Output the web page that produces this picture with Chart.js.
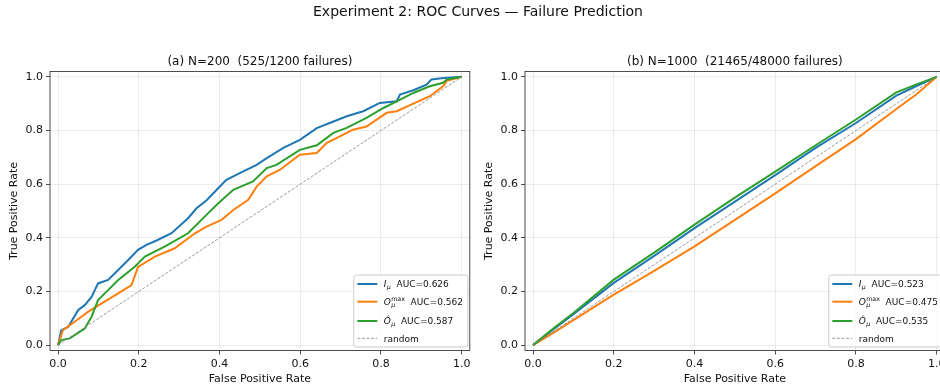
<!DOCTYPE html>
<html>
<head>
<meta charset="utf-8">
<script src="https://cdn.jsdelivr.net/npm/chart.js@4.4.1/dist/chart.umd.min.js"></script>
<style>
  html, body { margin: 0; padding: 0; background: #fff; overflow: hidden; }
  #wrap { position: relative; width: 940px; height: 390px; overflow: hidden; }
  #suptitle { position: absolute; left: 0; top: 3px; width: 956px; text-align: center;
              font: 14px "DejaVu Sans"; line-height: 16px; color: #111; }
  canvas { position: absolute; top: 0; }
</style>
</head>
<body>
<div id="wrap">
  <canvas id="rocA" width="480" height="390" style="left:0px"></canvas>
  <canvas id="rocB" width="480" height="390" style="left:475px"></canvas>
  <div id="suptitle">Experiment 2: ROC Curves — Failure Prediction</div>
</div>
<script>
// ---- data ----
const rateTicks = [0, 0.2, 0.4, 0.6, 0.8, 1.0];
const panelTitles = ['(a) N=200  (525/1200 failures)', '(b) N=1000  (21465/48000 failures)'];
const aucA = [0.626, 0.562, 0.587];
const aucB = [0.523, 0.475, 0.535];
const randomLine = [0, 1];

// panel (a), N=200
const iFprA = [0, .008, .025, .05, .066, .083, .099, .124, .157, .178, .198, .219, .244, .281, .322, .343, .368, .393, .417, .45, .492, .517, .558, .599, .641, .673, .715, .756, .797, .839, .847, .88, .913, .925, .95, 1];
const iTprA = [0, .056, .068, .131, .149, .18, .23, .243, .292, .324, .355, .374, .39, .417, .473, .51, .54, .579, .616, .641, .672, .697, .735, .765, .809, .828, .853, .872, .903, .909, .934, .95, .971, .99, .995, 1];
const oFprA = [0, .012, .041, .074, .108, .149, .182, .198, .24, .289, .339, .368, .405, .434, .471, .492, .517, .55, .599, .641, .665, .682, .731, .764, .814, .839, .88, .921, .954, .963, 1];
const oTprA = [0, .056, .087, .124, .156, .193, .224, .292, .33, .361, .417, .442, .467, .504, .542, .591, .629, .654, .71, .716, .753, .766, .803, .815, .866, .872, .9, .928, .965, .985, 1];
const hFprA = [0, .008, .029, .066, .083, .099, .124, .149, .19, .215, .264, .322, .372, .397, .434, .483, .517, .541, .599, .641, .682, .715, .764, .806, .839, .88, .921, .954, .963, 1];
const hTprA = [0, .019, .025, .062, .106, .168, .205, .243, .292, .33, .367, .417, .492, .529, .579, .61, .66, .672, .728, .745, .791, .81, .847, .884, .909, .94, .965, .978, .99, 1];

// panel (b), N=1000
const iFprB = [0, .05, .1, .2, .3, .4, .5, .6, .7, .8, .9, .95, 1];
const iTprB = [0, .058, .115, .232, .333, .436, .535, .634, .735, .828, .93, .966, 1];
const oFprB = [0, .05, .1, .2, .3, .4, .5, .6, .7, .8, .9, .95, 1];
const oTprB = [0, .046, .093, .188, .277, .368, .467, .566, .667, .768, .88, .935, 1];
const hFprB = [0, .05, .1, .2, .3, .4, .5, .6, .7, .8, .9, .95, 1];
const hTprB = [0, .062, .12, .244, .345, .449, .55, .647, .745, .841, .942, .972, 1];

const seriesColors = ['#1f77b4', '#ff7f0e', '#2ca02c'];
const legendSymbols = [
  { main: 'I', sub: 'μ', sup: '' },
  { main: 'O', sub: 'μ', sup: 'max' },
  { main: 'Ô', sub: 'μ', sup: '' }
];

Chart.defaults.font.family = '"DejaVu Sans"';
Chart.defaults.color = '#111';

const pts = (xs, ys) => xs.map((x, i) => ({ x: x, y: ys[i] }));

const panelDecor = {
  id: 'panelDecor',
  afterDraw(chart, args, opts) {
    const { ctx, chartArea: a } = chart;
    ctx.save();
    // axes frame
    ctx.strokeStyle = '#222';
    ctx.lineWidth = 0.8;
    ctx.strokeRect(a.left, a.top, a.right - a.left, a.bottom - a.top);

    // panel title
    ctx.fillStyle = '#111';
    ctx.font = '12px "DejaVu Sans"';
    ctx.textAlign = 'center';
    ctx.textBaseline = 'middle';
    ctx.fillText(opts.title, (a.left + a.right) / 2, 61.5);

    // legend box
    const w = 114, h = 72;
    const x0 = a.right - 2 - w, y0 = a.bottom - 3.5 - h;
    const r = 2.5;
    ctx.beginPath();
    ctx.moveTo(x0 + r, y0);
    ctx.arcTo(x0 + w, y0, x0 + w, y0 + h, r);
    ctx.arcTo(x0 + w, y0 + h, x0, y0 + h, r);
    ctx.arcTo(x0, y0 + h, x0, y0, r);
    ctx.arcTo(x0, y0, x0 + w, y0, r);
    ctx.closePath();
    ctx.fillStyle = 'rgba(255,255,255,0.8)';
    ctx.fill();
    ctx.strokeStyle = '#cccccc';
    ctx.lineWidth = 1;
    ctx.stroke();

    const rows = [9, 26.7, 46, 63.3];
    ctx.textAlign = 'left';
    ctx.textBaseline = 'alphabetic';
    rows.forEach((dy, i) => {
      const cy = y0 + dy;
      ctx.beginPath();
      ctx.moveTo(x0 + 3.5, cy);
      ctx.lineTo(x0 + 23.5, cy);
      if (i < 3) {
        ctx.setLineDash([]);
        ctx.strokeStyle = seriesColors[i];
        ctx.lineWidth = 2;
      } else {
        ctx.setLineDash([3, 1.6]);
        ctx.strokeStyle = 'rgba(128,128,128,0.8)';
        ctx.lineWidth = 1;
      }
      ctx.stroke();
      ctx.setLineDash([]);

      const base = cy + 3.4;
      let x = x0 + 30;
      ctx.fillStyle = '#111';
      if (i < 3) {
        const s = legendSymbols[i];
        ctx.font = 'italic 9px "DejaVu Sans"';
        ctx.fillText(s.main, x, base);
        x += ctx.measureText(s.main).width + 0.3;
        ctx.font = 'italic 6.3px "DejaVu Sans"';
        const subW = ctx.measureText(s.sub).width;
        ctx.fillText(s.sub, x, base + 2);
        let supW = 0;
        if (s.sup) {
          ctx.font = '6.3px "DejaVu Sans"';
          supW = ctx.measureText(s.sup).width;
          ctx.fillText(s.sup, x, base - 4.6);
        }
        x += Math.max(subW, supW);
        ctx.font = '9px "DejaVu Sans"';
        ctx.fillText('  AUC=' + opts.auc[i].toFixed(3), x, base);
      } else {
        ctx.font = '9px "DejaVu Sans"';
        ctx.fillText('random', x, base);
      }
    });
    ctx.restore();
  }
};

function axisOptions(isX, label) {
  return {
    type: 'linear',
    min: -0.02,
    max: 1.02,
    afterBuildTicks: s => { s.ticks = rateTicks.map(v => ({ value: v })); },
    afterFit: s => { if (isX) { s.height = 39.5; } else { s.width = 50; } },
    border: { display: false },
    grid: {
      color: '#e6e6e6',
      lineWidth: 0.8,
      drawTicks: true,
      tickLength: 4,
      tickColor: '#222',
      tickWidth: 0.8
    },
    ticks: {
      padding: 3,
      color: '#111',
      font: { size: 11 },
      callback: v => v.toFixed(1)
    },
    title: {
      display: true,
      text: label,
      color: '#111',
      font: { size: 11 },
      padding: isX ? { top: 0, bottom: 4 } : { top: 8, bottom: 0 }
    }
  };
}

function makePanel(id, title, auc, series) {
  const datasets = series.map((d, i) => ({
    data: d,
    showLine: true,
    borderColor: seriesColors[i],
    borderWidth: 2,
    pointRadius: 0,
    fill: false,
    order: 4 - i
  }));
  datasets.push({
    data: pts(randomLine, randomLine),
    showLine: true,
    borderColor: 'rgba(128,128,128,0.8)',
    borderWidth: 1,
    borderDash: [3, 1.6],
    pointRadius: 0,
    order: 1
  });
  new Chart(document.getElementById(id), {
    type: 'scatter',
    data: { datasets: datasets },
    plugins: [panelDecor],
    options: {
      responsive: false,
      animation: false,
      layout: { padding: { top: 71.5, right: 10.2, left: 0, bottom: 0 } },
      plugins: {
        legend: { display: false },
        tooltip: { enabled: false },
        panelDecor: { title: title, auc: auc }
      },
      scales: {
        x: axisOptions(true, 'False Positive Rate'),
        y: axisOptions(false, 'True Positive Rate')
      }
    }
  });
}

makePanel('rocA', panelTitles[0], aucA, [pts(iFprA, iTprA), pts(oFprA, oTprA), pts(hFprA, hTprA)]);
makePanel('rocB', panelTitles[1], aucB, [pts(iFprB, iTprB), pts(oFprB, oTprB), pts(hFprB, hTprB)]);
</script>
</body>
</html>
